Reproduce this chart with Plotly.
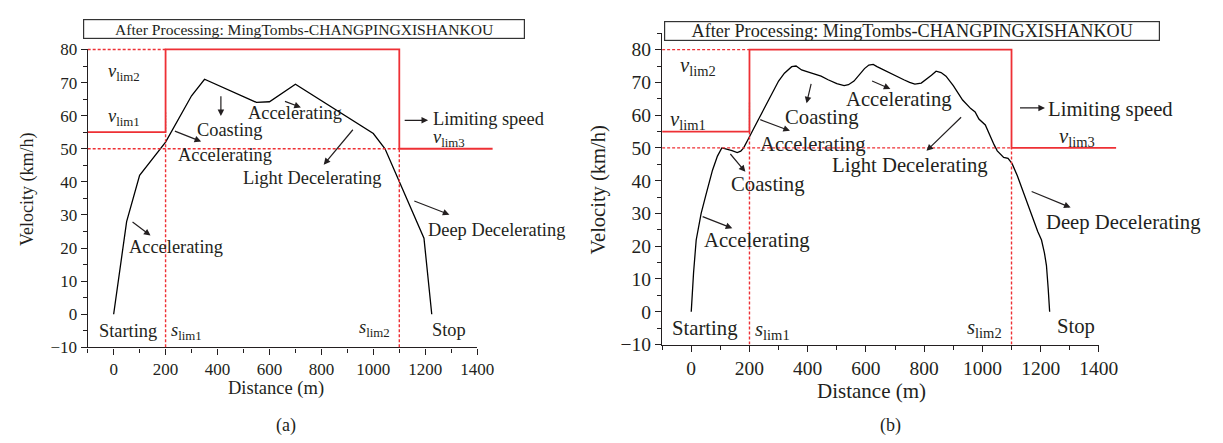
import plotly.graph_objects as go

W, H = 1223, 443
FONT = "Liberation Serif"
INK = "#231f20"
RED = "#ee3035"

# ---------------- data ----------------
# (a) measured profile
a_dist = [0, 50, 100, 200, 300, 350, 550, 600, 700, 1000, 1045, 1195, 1225]
a_vel = [0, 28, 42, 52, 66, 71, 64, 64.2, 69.5, 54.6, 50, 23, 0]

# (b) processed profile
b_dist = [0, 3, 8, 17, 34, 50, 73, 90, 105, 115, 124, 140, 158, 170, 180, 190, 200,
          215, 232, 250, 266, 283, 300, 320, 345, 360, 379, 400, 420, 446, 470, 500,
          525, 540, 559, 580, 595, 610, 625, 638, 660, 680, 706, 730, 750, 768, 790,
          807, 825, 841, 858, 875, 900, 932, 960, 975, 988, 1010, 1027, 1040, 1051,
          1062, 1073, 1088, 1102, 1120, 1136, 1150, 1169, 1190, 1203, 1213, 1220,
          1226, 1231]
b_vel = [0, 6, 12, 21.9, 30, 35.5, 43.2, 47.5, 50, 49.8, 49.6, 49.2, 48.6, 49, 50,
         51.5, 53.4, 56, 58.8, 62, 64.6, 67.5, 70.4, 72.8, 74.8, 75, 73.8, 73.2, 72.6,
         71.9, 70.8, 69.6, 69, 69.3, 70.4, 72.5, 74.2, 75.3, 75.5, 74.8, 73.8, 72.9,
         71.9, 70.8, 70, 69.5, 69.8, 70.9, 72.2, 73.4, 73, 71.9, 69, 64.6, 62, 61,
         58.8, 57, 53.4, 51, 49.1, 48, 47.1, 46.8, 45.2, 41.5, 37.4, 34, 29.6, 24.5,
         21.9, 18, 14.1, 7, 0]

# speed limits (km/h) and their positions (m)
v_lim1, v_lim2, v_lim3 = 55, 80, 50
s_lim1, s_lim2 = 200, 1100
s_start, s_end = -100, 1460
v_floor = -10

x_ticks = [0, 200, 400, 600, 800, 1000, 1200, 1400]
y_ticks = [-10, 0, 10, 20, 30, 40, 50, 60, 70, 80]

title_text = "After Processing: MingTombs-CHANGPINGXISHANKOU"

# ---------------- layout geometry (pixels) ----------------
panels = {
    "a": dict(px=(81, 477), py=(34, 346), xr=(-100, 1400), yr=(-10, 80), fs=18.4, tk=17,
              ats=18.5, box=(80, 522, 3, 23), tfs=15.6, label=(283, 428), xt=(272, 389),
              yt=(20, 180.5)),
    "b": dict(px=(665, 1109), py=(17, 343), xr=(-100, 1400), yr=(-10, 85), fs=20.7, tk=19.5,
              ats=21, box=(671, 1167, 5, 25), tfs=18.2, label=(897, 428), xt=(878, 391.5),
              yt=(600, 181.5)),
}

fig = go.Figure()
layout = dict(width=W, height=H, margin=dict(l=0, r=0, t=0, b=0),
              paper_bgcolor="white", plot_bgcolor="rgba(0,0,0,0)", showlegend=False)
annotations = []


def ext_domain(d0, d1, r0, r1, e0, e1):
    span = (d1 - d0) / (r1 - r0)
    return [d0 + (e0 - r0) * span, d1 + (e1 - r1) * span]


for i, key in enumerate(["a", "b"]):
    p = panels[key]
    n_main = i + 1
    n_ov = i + 3
    xd = [p["px"][0] / W, p["px"][1] / W]
    yd = [1 - p["py"][1] / H, 1 - p["py"][0] / H]
    xs = "" if n_main == 1 else str(n_main)
    tickfont = dict(family=FONT, size=p["tk"], color=INK)
    layout["xaxis" + xs] = dict(
        domain=xd, range=list(p["xr"]), anchor="y" + xs, showline=True, linecolor=INK,
        linewidth=1.3, ticks="outside", ticklen=6, tickwidth=1.2, tickcolor=INK,
        tickvals=x_ticks, showgrid=False, zeroline=False, tickfont=tickfont,
        minor=dict(dtick=100, tick0=0, ticks="outside", ticklen=4, tickcolor=INK, showgrid=False))
    layout["yaxis" + xs] = dict(
        domain=yd, range=list(p["yr"]), anchor="x" + xs, showline=True, linecolor=INK,
        linewidth=1.3, ticks="outside", ticklen=6, tickwidth=1.2, tickcolor=INK,
        tickvals=y_ticks, ticktext=[("\u221210" if t == -10 else str(t)) for t in y_ticks],
        showgrid=False, zeroline=False, tickfont=tickfont,
        minor=dict(dtick=5, tick0=0, ticks="outside", ticklen=4, tickcolor=INK, showgrid=False))
    # overlay axes (same scale, slightly larger window so limit lines are not clipped)
    oxr = [p["xr"][0], s_end]
    oyr = [p["yr"][0], p["yr"][1] + 3]
    layout["xaxis%d" % n_ov] = dict(domain=ext_domain(xd[0], xd[1], p["xr"][0], p["xr"][1], *oxr),
                                    range=oxr, anchor="y%d" % n_ov, visible=False)
    layout["yaxis%d" % n_ov] = dict(domain=ext_domain(yd[0], yd[1], p["yr"][0], p["yr"][1], *oyr),
                                    range=oyr, anchor="x%d" % n_ov, visible=False)

    ox, oy = "x%d" % n_ov, "y%d" % n_ov
    # dotted guide lines
    fig.add_trace(go.Scatter(
        x=[s_start, s_lim1, None, s_start, s_lim2, None, s_lim1, s_lim1, None, s_lim2, s_lim2],
        y=[v_lim2, v_lim2, None, v_lim3, v_lim3, None, v_floor, v_lim1, None, v_floor, v_lim3],
        mode="lines", line=dict(color=RED, width=1.4, dash="3px,2px"),
        xaxis=ox, yaxis=oy, hoverinfo="skip"))
    # small dark dotted marker above s_lim1
    fig.add_trace(go.Scatter(
        x=[s_lim1, s_lim1], y=[v_lim1, v_lim1 + (6 if key == "a" else 9)],
        mode="lines", line=dict(color="#444", width=1.2, dash="2px,1px"),
        xaxis=ox, yaxis=oy, hoverinfo="skip"))
    # limiting speed profile
    fig.add_trace(go.Scatter(
        x=[s_start, s_lim1, s_lim1, s_lim2, s_lim2, s_end],
        y=[v_lim1, v_lim1, v_lim2, v_lim2, v_lim3, v_lim3],
        mode="lines", line=dict(color=RED, width=1.8),
        xaxis=ox, yaxis=oy, hoverinfo="skip"))
    # velocity curve
    fig.add_trace(go.Scatter(
        x=a_dist if key == "a" else b_dist, y=a_vel if key == "a" else b_vel,
        mode="lines", line=dict(color="black", width=1.3),
        xaxis="x" + xs, yaxis="y" + xs, hoverinfo="skip"))

    # title box
    bx0, bx1, by0, by1 = p["box"]
    annotations.append(dict(
        xref="paper", yref="paper", x=(bx0 + bx1) / 2 / W, y=1 - (by0 + by1) / 2 / H,
        xanchor="center", yanchor="middle", text=title_text, showarrow=False,
        font=dict(family=FONT, size=p["tfs"], color=INK), bordercolor="#333",
        borderwidth=1.2, borderpad=0, bgcolor="white", width=bx1 - bx0 - 2, height=by1 - by0 - 2))
    # panel label & axis titles
    annotations.append(dict(xref="paper", yref="paper", x=p["label"][0] / W, y=1 - p["label"][1] / H,
                            text="(%s)" % key, showarrow=False, xanchor="center", yanchor="middle",
                            font=dict(family=FONT, size=18, color=INK)))
    annotations.append(dict(xref="paper", yref="paper", x=p["xt"][0] / W, y=1 - p["xt"][1] / H,
                            text="Distance (m)", showarrow=False, xanchor="center", yanchor="middle",
                            font=dict(family=FONT, size=p["ats"], color=INK)))
    annotations.append(dict(xref="paper", yref="paper", x=p["yt"][0] / W, y=1 - p["yt"][1] / H,
                            text="Velocity (km/h)", showarrow=False, xanchor="center", yanchor="middle",
                            textangle=-90, font=dict(family=FONT, size=p["ats"] - 0.5, color=INK)))

# ---------------- labels and arrows ----------------
labels = {
    "a": [
        ("<i>v</i><sub>lim2</sub>", 40, 72.9, "center"),
        ("<i>v</i><sub>lim1</sub>", 40, 59.4, "center"),
        ("Coasting", 448, 55.8, "center"),
        ("Accelerating", 429, 48.1, "center"),
        ("Accelerating", 700, 60.8, "center"),
        ("Light Decelerating", 764, 41.1, "center"),
        ("Limiting speed", 1222, 59.1, "left"),
        ("<i>v</i><sub>lim3</sub>", 1222, 53.2, "left"),
        ("Deep Decelerating", 1203, 25.4, "left"),
        ("Accelerating", 241, 20.3, "center"),
        ("Starting", 54, -5, "center"),
        ("<i>s</i><sub>lim1</sub>", 281, -5.2, "center"),
        ("<i>s</i><sub>lim2</sub>", 1006, -4.4, "center"),
        ("Stop", 1293, -4.8, "center"),
    ],
    "b": [
        ("<i>v</i><sub>lim2</sub>", 23, 74.8, "center"),
        ("<i>v</i><sub>lim1</sub>", -11, 58.3, "center"),
        ("Coasting", 449, 59.3, "center"),
        ("Accelerating", 419, 51, "center"),
        ("Coasting", 264, 38.9, "center"),
        ("Accelerating", 715, 64.9, "center"),
        ("Light Decelerating", 751, 44.7, "center"),
        ("Limiting speed", 1217, 61.7, "left"),
        ("<i>v</i><sub>lim3</sub>", 1325, 53.2, "center"),
        ("Deep Decelerating", 1210, 27.2, "left"),
        ("Accelerating", 225, 21.6, "center"),
        ("Starting", 47, -5.2, "center"),
        ("<i>s</i><sub>lim1</sub>", 278, -5.6, "center"),
        ("<i>s</i><sub>lim2</sub>", 1006, -5.0, "center"),
        ("Stop", 1322, -4.4, "center"),
    ],
}
# arrows: (tail x, tail y, head x, head y)
arrows = {
    "a": [(413, 66.3, 413, 59.9), (230, 55.5, 337, 52.2), (654, 64.5, 721, 62.5),
          (926, 56.2, 809, 45.2), (1115, 58.6, 1211, 58.6), (1152, 34.4, 1293, 30.1),
          (67, 28.2, 142, 23.8)],
    "b": [(413, 70, 396, 63.6), (232, 58.8, 339, 55.2), (130, 48.6, 186, 42.7),
          (616, 70.6, 684, 68), (932, 59.8, 808, 49.1), (1124, 62.2, 1215, 62.2),
          (1164, 36.9, 1303, 31.8), (34, 29.2, 141, 25.5)],
}

for i, key in enumerate(["a", "b"]):
    xs = "x" if i == 0 else "x2"
    ys = "y" if i == 0 else "y2"
    fs = panels[key]["fs"]
    for text, x, y, anc in labels[key]:
        annotations.append(dict(xref=xs, yref=ys, x=x, y=y, text=text, showarrow=False,
                                xanchor=anc, yanchor="middle",
                                font=dict(family=FONT, size=fs, color=INK)))
    for tx, ty, hx, hy in arrows[key]:
        annotations.append(dict(xref=xs, yref=ys, axref=xs, ayref=ys, x=hx, y=hy, ax=tx, ay=ty,
                                text="", showarrow=True, arrowhead=2, arrowsize=1.1,
                                arrowwidth=1.2, arrowcolor=INK, standoff=0, startstandoff=0))

layout["annotations"] = annotations
fig.update_layout(**layout)
fig.write_html("out.html")
